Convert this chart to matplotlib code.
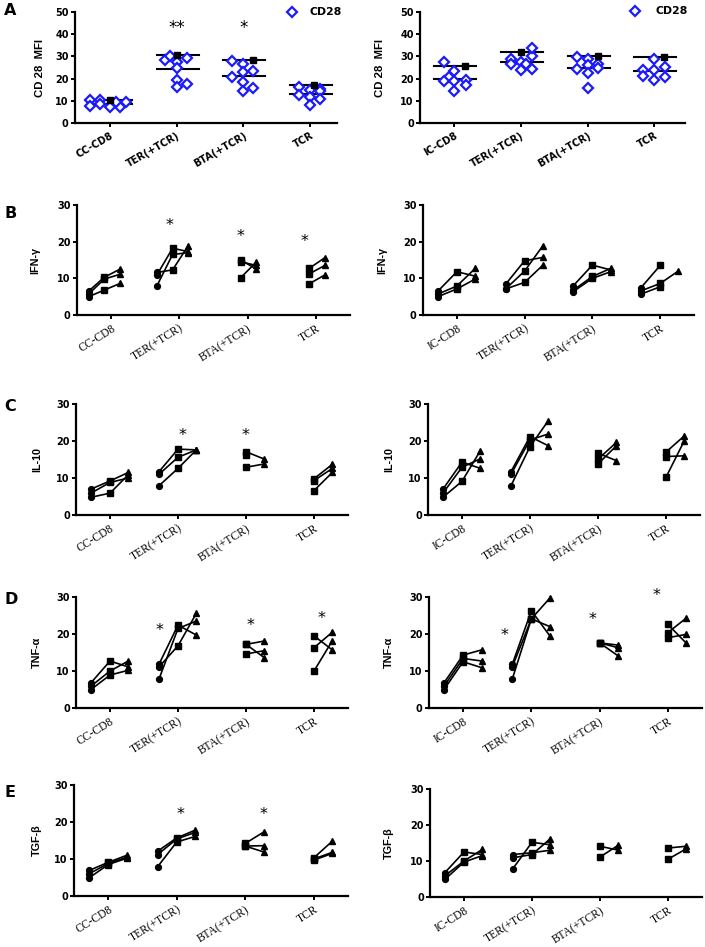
import numpy as np
import matplotlib
matplotlib.use('Agg')
import matplotlib.pyplot as plt

nan = np.nan
W, H = 705, 947

CATS_L = ['CC-CD8', 'TER(+TCR)', 'BTA(+TCR)', 'TCR']
CATS_R = ['IC-CD8', 'TER(+TCR)', 'BTA(+TCR)', 'TCR']

# ---------------- Panel A : CD28 MFI (scatter) ----------------
A_L_VALUES = [
    [10.2, 10.5, 7.8, 8.5, 7.0, 7.3, 9.5, 9.3],
    [28.2, 30.3, 27.6, 29.1, 24.8, 19.2, 16.2, 17.6],
    [27.8, 26.6, 22.8, 23.6, 20.7, 18.3, 14.3, 15.8],
    [16.4, 15.0, 15.3, 14.3, 12.6, 11.9, 10.8, 8.3],
]
A_R_VALUES = [
    [27.6, 23.6, 20.6, 18.8, 18.8, 19.2, 17.0, 14.6],
    [28.8, 26.6, 27.6, 26.6, 30.3, 33.8, 23.7, 24.5],
    [29.6, 28.8, 26.0, 26.6, 24.8, 24.3, 22.5, 15.8],
    [28.8, 23.7, 23.7, 25.1, 21.0, 19.5, 20.7],
]
A_L_UPPER = [10.2, 30.7, 28.5, 17.0]
A_L_LOWER = [8.7, 24.2, 21.2, 13.0]
A_R_UPPER = [25.8, 31.8, 30.3, 29.6]
A_R_LOWER = [20.0, 27.6, 24.8, 23.4]
A_L_STARS = [(1, '**', 42.8), (2, '*', 42.8)]

# layout (jitter) constants for panel A
A_L_DX = [
    [-0.3, -0.15, -0.3, -0.15, 0.0, 0.15, 0.25, 0.1],
    [-0.17, -0.1, 0.0, 0.16, 0.0, 0.0, 0.0, 0.16],
    [-0.165, 0.0, 0.0, 0.15, -0.165, 0.0, 0.0, 0.15],
    [-0.165, 0.0, 0.15, 0.15, -0.165, 0.0, 0.15, 0.0],
]
A_R_DX = [
    [-0.15, 0.0, -0.075, -0.15, 0.0, 0.175, 0.175, 0.0],
    [-0.15, -0.15, 0.0, 0.075, 0.165, 0.165, 0.0, 0.165],
    [-0.165, 0.0, 0.0, 0.16, 0.16, -0.165, 0.0, 0.0],
    [0.0, -0.165, 0.0, 0.16, -0.165, 0.0, 0.16],
]
A_L_SQDX = [0.0, 0.0, 0.15, 0.05]
A_R_SQDX = [0.17, 0.0, 0.16, 0.15]

# ---------------- Panels B-E : paired lines (circle -> square -> triangle) ----------------
# each: 4 groups x 3 donors
B_L_C = [[6.5, 5.7, 5.0], [11.6, 10.9, 7.9], [nan, nan, nan], [nan, nan, nan]]
B_L_S = [[10.3, 9.8, 6.8], [12.3, 18.2, 16.5], [15.0, 14.5, 10.2], [12.7, 11.2, 8.5]]
B_L_T = [[12.5, 11.1, 8.6], [18.9, 17.3, 17.0], [12.5, 13.5, 14.5], [15.6, 13.5, 10.9]]
B_L_STARS = [(1, -0.15, 24.5), (2, -0.11, 21.4), (3, -0.17, 20.0)]

B_R_C = [[6.5, 5.7, 5.0], [8.4, 7.1, 7.1], [8.0, 6.8, 6.4], [7.5, 6.6, 5.7]]
B_R_S = [[11.8, 7.9, 7.1], [14.8, 12.0, 8.9], [13.6, 10.5, 10.0], [13.5, 8.6, 7.7]]
B_R_T = [[10.6, 12.7, 9.8], [15.7, 18.9, 13.6], [12.3, 12.7, 11.8], [nan, 12.0, nan]]
B_R_STARS = []

C_L_C = [[7.0, 5.9, 4.8], [11.7, 11.0, 7.9], [nan, nan, nan], [nan, nan, nan]]
C_L_S = [[9.2, 8.8, 5.9], [17.8, 15.6, 12.6], [17.1, 16.2, 12.9], [9.8, 9.3, 6.6]]
C_L_T = [[11.5, 10.0, 10.9], [17.6, 17.6, 17.6], [15.1, nan, 13.8], [13.7, 12.6, 11.5]]
C_L_STARS = [(1, 0.06, 21.6), (2, 0.0, 21.6)]

C_R_C = [[7.0, 5.9, 4.8], [11.7, 11.0, 7.9], [nan, nan, nan], [nan, nan, nan]]
C_R_S = [[14.3, 12.9, 9.1], [21.2, 20.3, 18.5], [16.7, 15.1, 13.8], [17.0, 15.8, 10.2]]
C_R_T = [[12.6, 15.2, 17.4], [18.7, 21.9, 25.5], [14.7, 19.6, 18.7], [21.4, 16.0, 20.1]]
C_R_STARS = []

D_L_C = [[6.8, 5.9, 5.0], [11.8, 11.1, 7.8], [nan, nan, nan], [nan, nan, nan]]
D_L_S = [[12.7, 10.0, 8.9], [22.4, 16.8, 21.5], [17.2, 17.2, 14.6], [19.5, 16.3, 10.0]]
D_L_T = [[11.1, 12.7, 10.2], [19.7, 25.6, 23.5], [18.1, 13.6, 15.5], [15.7, 20.5, 18.2]]
D_L_STARS = [(1, -0.27, 20.9), (2, 0.06, 22.4), (3, 0.11, 24.1)]

D_R_C = [[6.8, 5.9, 5.0], [11.8, 11.1, 7.8], [nan, nan, nan], [nan, nan, nan]]
D_R_S = [[14.3, 13.4, 12.5], [26.3, 24.1, 24.1], [17.6, 17.6, 17.6], [22.6, 20.4, 19.0]]
D_R_T = [[15.7, 12.7, 10.9], [19.5, 22.0, 29.7], [17.0, 16.3, 14.1], [17.5, 24.3, 19.9]]
D_R_STARS = [(1, -0.4, 19.5), (2, -0.1, 23.8), (3, -0.16, 30.3)]

E_L_C = [[6.9, 6.0, 4.9], [12.1, 11.2, 7.9], [nan, nan, nan], [nan, nan, nan]]
E_L_S = [[9.1, 8.8, 8.5], [15.7, 15.4, 14.6], [14.2, 13.5, 13.5], [10.3, 10.0, 9.7]]
E_L_T = [[11.0, 10.5, 10.2], [17.8, 17.2, 16.1], [17.3, 13.6, 11.9], [14.8, 11.8, 11.5]]
E_L_STARS = [(1, 0.05, 22.0), (2, 0.26, 22.0)]

E_R_C = [[6.8, 5.9, 4.9], [7.9, 11.8, 10.9], [nan, nan, nan], [nan, nan, nan]]
E_R_S = [[12.5, 10.0, 9.7], [15.2, 12.3, 11.8], [14.1, 11.1, nan], [13.6, 10.5, nan]]
E_R_T = [[11.8, 13.2, 11.5], [14.5, 13.0, 16.2], [13.0, 14.4, nan], [14.1, 13.4, nan]]
E_R_STARS = []

# ---------------- figure ----------------
fig = plt.figure(figsize=(W / 100, H / 100), dpi=100)
fig.patch.set_facecolor('white')

NARROW = ['Liberation Sans Narrow', 'Liberation Sans', 'DejaVu Sans']
BLUE = '#1a1aff'


def make_ax(x0, x1, yb, yt):
    return fig.add_axes([x0 / W, 1 - yb / H, (x1 - x0) / W, (yb - yt) / H])


def style(ax, ymax, step, cats, serif, xlim, ylabel, ylab_x, x0, x1, ylab_size):
    ax.set_xlim(*xlim)
    ax.set_ylim(0, ymax)
    for s in ['top', 'right']:
        ax.spines[s].set_visible(False)
    for s in ['left', 'bottom']:
        ax.spines[s].set_linewidth(1.6)
    ax.set_yticks(np.arange(0, ymax + 0.1, step))
    ax.tick_params(axis='both', direction='out', length=3, width=1.4, pad=1.5)
    ax.tick_params(axis='y', labelsize=7.0)
    for lab in ax.get_yticklabels():
        lab.set_fontweight('bold')
        lab.set_family('DejaVu Sans')
    ax.set_xticks(range(4))
    if serif:
        ax.set_xticklabels(cats, rotation=32, ha='right', va='top', rotation_mode='anchor',
                           family='Liberation Serif', fontsize=8.3)
    else:
        ax.set_xticklabels(cats, rotation=30, ha='right', va='top', rotation_mode='anchor',
                           family='DejaVu Sans', fontweight='bold', fontsize=7.0)
    ax.tick_params(axis='x', pad=2.5)
    ax.set_ylabel(ylabel, family=NARROW, fontweight='bold', fontsize=ylab_size)
    ax.yaxis.set_label_coords((ylab_x - x0) / (x1 - x0), 0.5)


def scatter_panel(ax, values, dx, upper, lower, sqdx):
    for g in range(4):
        xs = [g + d for d in dx[g]]
        ax.plot(xs, values[g], linestyle='none', marker='D', ms=4.6, mfc='white',
                mec=BLUE, mew=1.6, zorder=3, clip_on=False)
        ax.plot([g - 0.3, g + 0.33], [upper[g]] * 2, color='black', lw=1.5, zorder=2)
        ax.plot([g - 0.3, g + 0.33], [lower[g]] * 2, color='black', lw=1.5, zorder=2)
        ax.plot([g + sqdx[g]], [upper[g]], marker='s', ms=4.5, color='black', zorder=4)


def line_panel(ax, circ, sq, tri, offs, stars):
    for g in range(4):
        xs = [g + o for o in offs]
        for d in range(3):
            ys = [circ[g][d], sq[g][d], tri[g][d]]
            pts = [(x, y) for x, y in zip(xs, ys) if not np.isnan(y)]
            if len(pts) > 1:
                px, py = zip(*pts)
                ax.plot(px, py, color='black', lw=1.2, zorder=2, clip_on=False)
            ax.plot([xs[0]], [circ[g][d]], marker='o', ms=4.2, color='black', ls='none',
                    zorder=3, clip_on=False)
            ax.plot([xs[1]], [sq[g][d]], marker='s', ms=4.8, color='black', ls='none',
                    zorder=3, clip_on=False)
            ax.plot([xs[2]], [tri[g][d]], marker='^', ms=4.8, color='black', ls='none',
                    zorder=3, clip_on=False)
    for g, dxs, y in stars:
        ax.text(g + dxs, y, '*', ha='center', va='center', fontsize=11.5,
                family='DejaVu Sans', clip_on=False)


def legend_cd28(xd, xt, y):
    fig.lines.append(plt.Line2D([xd / W], [1 - y / H], marker='D', ms=4.6, mfc='white',
                                mec=BLUE, mew=1.6, transform=fig.transFigure, ls='none'))
    fig.text(xt / W, 1 - y / H, 'CD28', ha='left', va='center', fontsize=7.8,
             fontweight='bold', family='DejaVu Sans')


# ---- Panel A ----
axAL = make_ax(75, 337, 123, 12)
style(axAL, 50, 10, CATS_L, False, (-0.52, 3.4), 'CD 28  MFI', 45, 75, 337, 8.2)
scatter_panel(axAL, A_L_VALUES, A_L_DX, A_L_UPPER, A_L_LOWER, A_L_SQDX)
for g, txt, y in A_L_STARS:
    axAL.text(g, y, txt, ha='center', va='center', fontsize=12, family='DejaVu Sans')
legend_cd28(292, 309, 12)

axAR = make_ax(420, 685, 123, 12)
style(axAR, 50, 10, CATS_R, False, (-0.51, 3.46), 'CD 28  MFI', 385, 420, 685, 8.2)
scatter_panel(axAR, A_R_VALUES, A_R_DX, A_R_UPPER, A_R_LOWER, A_R_SQDX)
legend_cd28(635, 655, 11)

# ---- Panels B-E ----
OFFS_BL = [-0.33, -0.1, 0.13]
OFFS_STD = [-0.28, 0.0, 0.27]

rows = [
    ('IFN-γ', (B_L_C, B_L_S, B_L_T, B_L_STARS), (B_R_C, B_R_S, B_R_T, B_R_STARS),
     (77, 350, 315, 205, 40), (423, 694, 315, 205, 387), OFFS_BL),
    ('IL-10', (C_L_C, C_L_S, C_L_T, C_L_STARS), (C_R_C, C_R_S, C_R_T, C_R_STARS),
     (76, 348, 515, 404, 42), (428, 700, 515, 404, 394), OFFS_STD),
    ('TNF-α', (D_L_C, D_L_S, D_L_T, D_L_STARS), (D_R_C, D_R_S, D_R_T, D_R_STARS),
     (76, 348, 708, 597, 42), (429, 702, 708, 597, 394), OFFS_STD),
    ('TGF-β', (E_L_C, E_L_S, E_L_T, E_L_STARS), (E_R_C, E_R_S, E_R_T, E_R_STARS),
     (74, 348, 896, 785, 42), (430, 702, 897, 789, 394), OFFS_STD),
]

for label, ldata, rdata, lg, rg, loffs in rows:
    for data, geom, cats, offs in ((ldata, lg, CATS_L, loffs), (rdata, rg, CATS_R, OFFS_STD)):
        x0, x1, yb, yt, ylx = geom
        ax = make_ax(x0, x1, yb, yt)
        style(ax, 30, 10, cats, True, (-0.5, 3.5), label, ylx, x0, x1, 7.8)
        line_panel(ax, data[0], data[1], data[2], offs, data[3])

# panel letters
for letter, ytop in [('A', 3), ('B', 206), ('C', 399), ('D', 592), ('E', 785)]:
    fig.text(4 / W, 1 - ytop / H, letter, ha='left', va='top', fontsize=11.5,
             fontweight='bold', family='DejaVu Sans')

fig.savefig('out.png', dpi=100, facecolor='white')
